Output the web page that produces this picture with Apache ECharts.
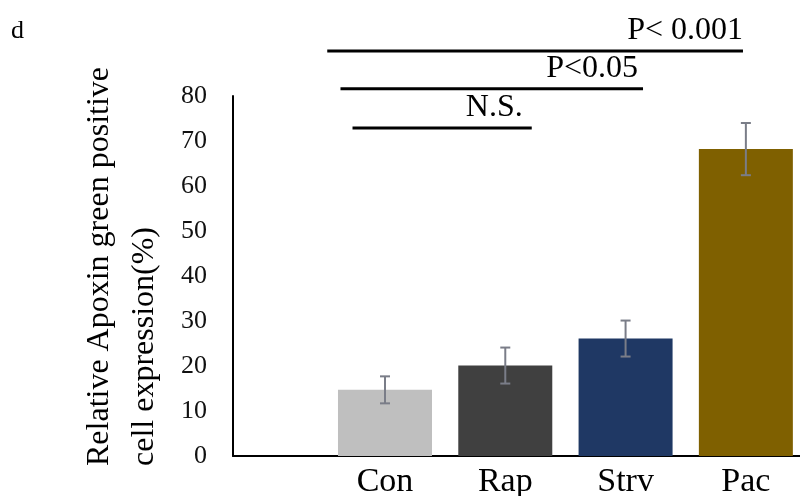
<!DOCTYPE html>
<html>
<head>
<meta charset="utf-8">
<script src="https://cdn.jsdelivr.net/npm/echarts@6/dist/echarts.min.js"></script>
<style>
  html, body { margin: 0; padding: 0; background: #fff; }
  #chart { width: 800px; height: 496px; }
</style>
</head>
<body>
<div id="chart"></div>
<script>
// Groups shown on the x axis
const categories = ['Con', 'Rap', 'Strv', 'Pac'];
// Mean percentage of Apoxin green positive cells per group
const means = [14.7, 20.1, 26.1, 68.2];
// Error (± half-range) for each group
const errors = [3.0, 4.0, 4.0, 5.8];
// Y axis tick values
const yTicks = [0, 10, 20, 30, 40, 50, 60, 70, 80];
// Significance comparisons against the control group
const sigPairs = [['Con', 'Rap'], ['Con', 'Strv'], ['Con', 'Pac']];
const sigLabels = ['N.S.', 'P<0.05', 'P< 0.001'];

const barColors = ['#BFBFBF', '#404040', '#1F3864', '#7F6000'];
const serif = "'Liberation Serif', 'Times New Roman', serif";

// Category i sits at x = i + 1 on a value axis so the plot can keep
// an open band between the y axis and the first group.
const xOf = name => categories.indexOf(name) + 1;

// Bracket layout: start/end offsets from the compared groups and height (axis units)
const bracketLayout = [
  { dx0: -0.27, dx1: 0.22, level: 72.9, inset: 9 },
  { dx0: -0.37, dx1: 0.145, level: 81.6, inset: 5 },
  { dx0: -0.48, dx1: -0.024, level: 90.0, inset: 0 }
];

const chart = echarts.init(document.getElementById('chart'), null, { renderer: 'canvas' });

chart.setOption({
  animation: false,
  backgroundColor: '#ffffff',
  grid: { left: 233, right: 0, top: 96, bottom: 40, containLabel: false, outerBoundsMode: 'none' },
  xAxis: {
    type: 'value',
    min: -0.2635,
    max: 4.45,
    axisLine: { show: true, onZero: false, lineStyle: { color: '#000', width: 2 } },
    axisTick: { show: false },
    splitLine: { show: false },
    axisLabel: {
      customValues: categories.map((c, i) => i + 1),
      formatter: v => categories[Math.round(v) - 1] || '',
      fontFamily: serif,
      fontSize: 34,
      color: '#000',
      margin: 9
    }
  },
  yAxis: {
    type: 'value',
    min: yTicks[0],
    max: yTicks[yTicks.length - 1],
    interval: yTicks[1] - yTicks[0],
    axisLine: { show: true, onZero: false, lineStyle: { color: '#000', width: 2 } },
    axisTick: { show: false },
    splitLine: { show: false },
    axisLabel: { fontFamily: serif, fontSize: 26, color: '#111', margin: 26 }
  },
  graphic: [
    {
      type: 'text', left: 11, top: 18,
      style: { text: 'd', font: '26px ' + serif, fill: '#000' }
    },
    {
      type: 'text', x: 122, y: 466, rotation: Math.PI / 2,
      style: {
        text: 'Relative Apoxin green positive\ncell expression(%)',
        font: '32px ' + serif, fill: '#000',
        align: 'left', verticalAlign: 'middle', lineHeight: 45
      }
    }
  ],
  series: [
    {
      type: 'bar',
      barWidth: 94,
      data: means.map((m, i) => ({ value: [i + 1, m], itemStyle: { color: barColors[i] } }))
    },
    {
      // error bars with small caps
      type: 'custom',
      z: 5,
      data: means.map((m, i) => [i + 1, m - errors[i], m + errors[i]]),
      renderItem: (params, api) => {
        const x = api.value(0);
        const lo = api.coord([x, api.value(1)]);
        const hi = api.coord([x, api.value(2)]);
        const cap = 5;
        const style = { stroke: '#7a7d88', lineWidth: 2 };
        return {
          type: 'group',
          children: [
            { type: 'line', shape: { x1: lo[0], y1: lo[1], x2: hi[0], y2: hi[1] }, style },
            { type: 'line', shape: { x1: hi[0] - cap, y1: hi[1], x2: hi[0] + cap, y2: hi[1] }, style },
            { type: 'line', shape: { x1: lo[0] - cap, y1: lo[1], x2: lo[0] + cap, y2: lo[1] }, style }
          ]
        };
      }
    },
    {
      // significance brackets above the bars
      type: 'custom',
      clip: false,
      z: 6,
      data: sigPairs.map((p, i) => [xOf(p[0]), xOf(p[1]), i]),
      renderItem: (params, api) => {
        const i = api.value(2);
        const lay = bracketLayout[i];
        const a = api.coord([api.value(0) + lay.dx0, lay.level]);
        const b = api.coord([api.value(1) + lay.dx1, lay.level]);
        return {
          type: 'group',
          children: [
            { type: 'line', shape: { x1: a[0], y1: a[1], x2: b[0], y2: b[1] },
              style: { stroke: '#000', lineWidth: 3 } },
            { type: 'text', x: b[0] - lay.inset, y: a[1] - 4,
              style: { text: sigLabels[i], font: '32px ' + serif, fill: '#000',
                       align: 'right', verticalAlign: 'bottom' } }
          ]
        };
      }
    }
  ]
});
</script>
</body>
</html>
